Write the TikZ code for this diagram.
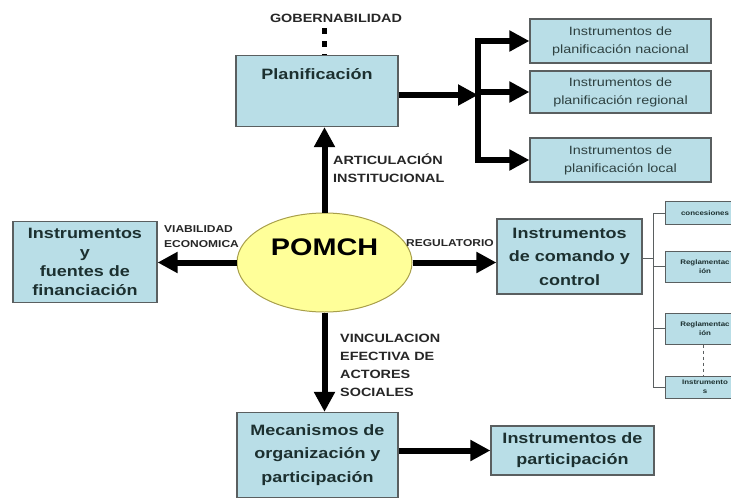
\documentclass[tikz,border=0pt]{standalone}
\usepackage{fontspec}
\setmainfont{Liberation Sans}[FakeStretch=1.2]
\usetikzlibrary{shapes.geometric,arrows.meta,positioning,calc}

\definecolor{boxfill}{HTML}{B9DEE7}
\definecolor{boxline}{HTML}{5A5F60}
\definecolor{boxtext}{HTML}{1C3030}
\definecolor{ellfill}{HTML}{FFFF99}
\definecolor{ellline}{HTML}{A89F4A}

\tikzset{
  box/.style={draw=boxline, line width=1.2pt, fill=boxfill, text=boxtext,
    font=\bfseries\fontsize{15}{19}\selectfont, align=center, inner sep=2pt},
  subbox/.style={box, font=\fontsize{12}{18}\selectfont, text=boxtext!92,
    minimum width=181pt},
  tinybox/.style={box, line width=1pt, font=\bfseries\fontsize{6.6}{9.5}\selectfont,
    minimum width=80pt},
  lbl/.style={font=\bfseries\fontsize{12}{18}\selectfont, text=black!85,
    align=left, inner sep=0pt},
  bigarrow/.style={line width=6pt, -{Triangle[length=20pt,width=20pt]}},
  thin tree/.style={draw=boxline, line width=1pt}
}

\begin{document}
\begin{tikzpicture}[x=1pt, y=-1pt]
  \useasboundingbox (0,0) rectangle (731,498);

  % centro
  \node[ellipse, draw=ellline, line width=1pt, fill=ellfill, minimum width=175pt,
    minimum height=99pt, inner sep=0pt, font=\bfseries\fontsize{24}{24}\selectfont,
    text height=17pt, text depth=31pt] (pomch) at (324.5,262.5) {POMCH};

  % planificacion
  \node[box, minimum width=162pt, minimum height=71pt, inner ysep=4pt,
    text height=20pt, text depth=43pt] (plan) at (317,91) {Planificaci\'on};
  \node[lbl] (gob) at (336,18) {GOBERNABILIDAD};
  \node[subbox, minimum height=44pt] (nac) at (620.5,41)
    {Instrumentos de\\planificaci\'on nacional};
  \node[subbox, minimum height=42pt] (reg) at (620.5,92)
    {Instrumentos de\\planificaci\'on regional};
  \node[subbox, minimum height=44pt] (loc) at (620.5,160)
    {Instrumentos de\\planificaci\'on local};
  \coordinate (bar) at (478,95);

  % lados
  \node[box, minimum width=144pt, minimum height=81pt,
    font=\bfseries\fontsize{15}{19}\selectfont] (fin) at (85,262)
    {Instrumentos\\y\\fuentes de\\financiaci\'on};
  \node[box, minimum width=145pt, minimum height=75pt,
    font=\bfseries\fontsize{15}{23.5}\selectfont] (cmd) at (569.5,256.5)
    {Instrumentos\\de comando y\\control};
  \node[box, minimum width=161pt, minimum height=85pt,
    font=\bfseries\fontsize{15}{23.5}\selectfont] (mec) at (317.5,455)
    {Mecanismos de\\organizaci\'on y\\participaci\'on};
  \node[box, minimum width=163pt, minimum height=49pt,
    font=\bfseries\fontsize{15}{21}\selectfont] (part) at (572.5,450.5)
    {Instrumentos de\\participaci\'on};

  % regulacion
  \node[tinybox, minimum height=23pt] (con) at (705,213) {concesiones};
  \node[tinybox, minimum height=31pt] (regA) at (705,266.5) {Reglamentac\\i\'on};
  \node[tinybox, minimum height=31pt] (regB) at (705,328.5) {Reglamentac\\i\'on};
  \node[tinybox, minimum height=22pt] (ins) at (705,387) {Instrumento\\s};
  \coordinate (tree) at (653,258);

  % etiquetas
  \node[lbl, anchor=north west] (art) at (333,154) {ARTICULACI\'ON\\INSTITUCIONAL};
  \node[lbl, anchor=north west] (vin) at (340,334)
    {VINCULACION\\EFECTIVA DE\\ACTORES\\SOCIALES};
  \node[lbl, anchor=west, font=\bfseries\fontsize{10}{15}\selectfont] (via)
    at (164,237) {VIABILIDAD\\ECONOMICA};
  \node[lbl, anchor=west, font=\bfseries\fontsize{10}{15}\selectfont] (regl)
    at (406,243) {REGULATORIO};

  % flechas
  \draw[line width=5pt, dash pattern=on 6pt off 7pt] (gob.south -| pomch) ++(0,6)
    -- (plan.north -| pomch);
  \draw[bigarrow] (pomch.north) -- (plan.south -| pomch);
  \draw[bigarrow] (pomch.south) -- (mec.north -| pomch);
  \draw[bigarrow] (pomch.west) -- (fin.east |- pomch);
  \draw[bigarrow] (pomch.east) -- (cmd.west |- pomch);
  \draw[bigarrow] (mec.east |- part) -- (part.west);

  \draw[bigarrow] (plan.east |- bar) -- (bar);
  \draw[line width=6pt] ($(bar |- nac.west)+(0,-3)$) -- ($(bar |- loc.west)+(0,3)$);
  \draw[bigarrow] (bar |- nac.west) -- (nac.west);
  \draw[bigarrow] (bar |- reg.west) -- (reg.west);
  \draw[bigarrow] (bar |- loc.west) -- (loc.west);

  \draw[thin tree] (cmd.east |- tree) -- (tree);
  \draw[thin tree] (tree |- con) -- (tree |- ins);
  \foreach \n in {con,regA,regB,ins}
    \draw[thin tree] (tree |- \n.west) -- (\n.west);
  \draw[thin tree, dashed] ($(regB.south)+(-2,0)$) -- ($(ins.north)+(-2,0)$);
\end{tikzpicture}
\end{document}
